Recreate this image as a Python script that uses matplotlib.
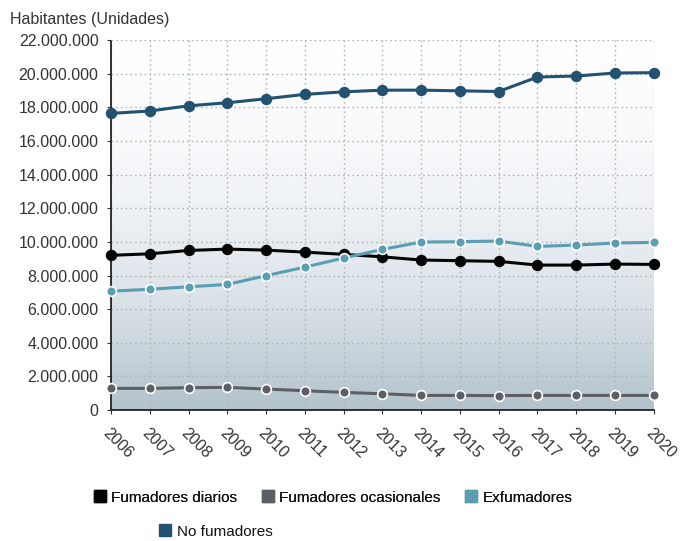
import numpy as np
import matplotlib
matplotlib.use("Agg")
import matplotlib.pyplot as plt
from matplotlib.colors import LinearSegmentedColormap
from matplotlib.lines import Line2D
from matplotlib.ticker import FuncFormatter

plt.rcParams["font.family"] = ["Liberation Sans", "DejaVu Sans"]

years = list(range(2006, 2021))
diarios = [9.20, 9.29, 9.49, 9.57, 9.51, 9.39, 9.26, 9.11, 8.92, 8.88, 8.84, 8.62, 8.62, 8.68, 8.66]
ocasionales = [1.29, 1.29, 1.33, 1.35, 1.25, 1.15, 1.05, 0.97, 0.87, 0.87, 0.86, 0.87, 0.87, 0.87, 0.87]
exfumadores = [7.07, 7.18, 7.33, 7.47, 7.99, 8.50, 9.04, 9.55, 9.99, 10.01, 10.05, 9.73, 9.81, 9.93, 9.97]
no_fumadores = [17.64, 17.78, 18.09, 18.27, 18.51, 18.77, 18.92, 19.02, 19.02, 18.98, 18.94, 19.80, 19.86, 20.04, 20.06]

C_DIA, C_OCA, C_EX, C_NO = "#050505", "#5c6064", "#5b9db1", "#22526f"
TXT = "#333333"

fig = plt.figure(figsize=(6.81, 5.41), dpi=100)
ax = fig.add_axes([0.163, 0.242, 0.797, 0.684])

# vertical gradient behind the plot area: near white on top, blue-grey at the base
grad = LinearSegmentedColormap.from_list("bg", ["#ffffff", "#f2f5f8", "#dae2e8", "#b3c2cc"])
ramp = np.linspace(0, 1, 256).reshape(-1, 1) ** 1.2
ax.imshow(ramp, cmap=grad, aspect="auto", origin="upper",
          extent=[2006, 2020, 0, 22e6], zorder=0)

series = [
    (diarios, C_DIA, C_DIA, "Fumadores diarios"),
    (ocasionales, C_OCA, "white", "Fumadores ocasionales"),
    (exfumadores, C_EX, "white", "Exfumadores"),
    (no_fumadores, C_NO, C_NO, "No fumadores"),
]
for vals, col, edge, lab in series:
    ax.plot(years, np.array(vals) * 1e6, color=col, lw=2.2, marker="o", ms=7,
            mfc=col, mec=edge, mew=1.2, clip_on=False, zorder=3, label=lab)

ax.set_xlim(2006, 2020)
ax.set_ylim(0, 22e6)
ax.set_yticks(np.arange(0, 22e6 + 1, 2e6))
ax.yaxis.set_major_formatter(FuncFormatter(lambda v, p: f"{int(v):,}".replace(",", ".")))
ax.set_xticks(years)
ax.set_xticklabels([str(y) for y in years], rotation=-45, ha="left", va="top",
                   rotation_mode="anchor")
ax.tick_params(axis="y", labelsize=11.5, colors=TXT, length=3, pad=6)
ax.tick_params(axis="x", labelsize=11.5, colors=TXT, length=3, pad=8)

ax.grid(True, color="#b4b4b4", ls=(0, (1.2, 2.2)), lw=1.0, zorder=1)
ax.set_axisbelow(True)
for s in ("top", "right"):
    ax.spines[s].set_visible(False)
for s in ("left", "bottom"):
    ax.spines[s].set_color("#222222")
    ax.spines[s].set_linestyle((0, (1.5, 1)))
    ax.spines[s].set_linewidth(1.3)

fig.text(0.015, 0.955, "Habitantes (Unidades)", fontsize=11.5, color=TXT)

def handle(c):
    return Line2D([], [], ls="none", marker="s", ms=8, mfc=c, mec=c)

leg1 = fig.legend([handle(c) for _, c, _, _ in series[:3]], [s[3] for s in series[:3]],
                  loc="center", bbox_to_anchor=(0.49, 0.08), ncol=3, frameon=False,
                  fontsize=11, handlelength=0.6, handletextpad=0.45, columnspacing=1.7,
                  labelcolor="#111111")
fig.add_artist(leg1)
fig.legend([handle(C_NO)], ["No fumadores"], loc="center", bbox_to_anchor=(0.318, 0.017),
           frameon=False, fontsize=11, handlelength=0.6, handletextpad=0.45,
           labelcolor="#111111")

fig.savefig("out.png", dpi=100)
